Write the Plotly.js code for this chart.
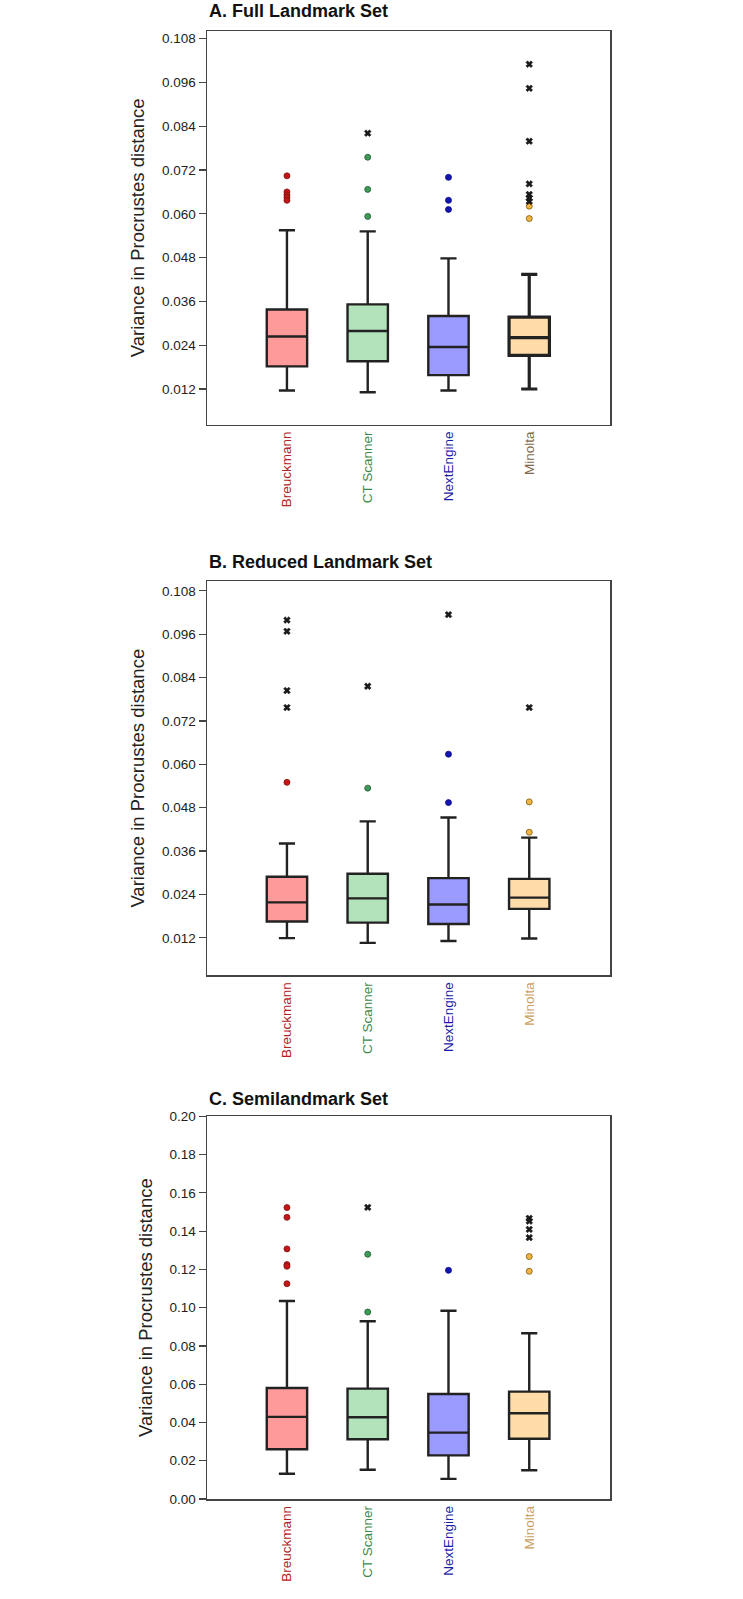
<!DOCTYPE html>
<html>
<head>
<meta charset="utf-8">
<script src="https://cdn.plot.ly/plotly-3.0.1.min.js"></script>
<style>html,body{margin:0;padding:0;background:#fff;}#chart{width:743px;height:1599px;}</style>
</head>
<body>
<div id="chart"></div>
<script>
// ---- Data ----
const scanners = ["Breuckmann", "CT Scanner", "NextEngine", "Minolta"];
const panelTitles = ["A. Full Landmark Set", "B. Reduced Landmark Set", "C. Semilandmark Set"];

// Panel A: Full Landmark Set
const A_q1 = [0.0182, 0.0196, 0.0158, 0.0212];
const A_median = [0.0264, 0.0279, 0.0235, 0.0261];
const A_q3 = [0.0338, 0.0352, 0.0320, 0.0317];
const A_low = [0.0116, 0.0111, 0.0116, 0.0120];
const A_high = [0.0555, 0.0552, 0.0478, 0.0434];
const A_outliers = [[0.0704, 0.0660, 0.0652, 0.0645, 0.0637], [0.0755, 0.0667, 0.0593], [0.0700, 0.0637, 0.0612], [0.0621, 0.0587]];
const A_extremes = [[], [0.0821], [], [0.1010, 0.0944, 0.0799, 0.0682, 0.0653, 0.0643, 0.0634]];

// Panel B: Reduced Landmark Set
const B_q1 = [0.0165, 0.0162, 0.0158, 0.0200];
const B_median = [0.0218, 0.0229, 0.0212, 0.0231];
const B_q3 = [0.0289, 0.0297, 0.0285, 0.0283];
const B_low = [0.0119, 0.0106, 0.0111, 0.0118];
const B_high = [0.0381, 0.0442, 0.0453, 0.0397];
const B_outliers = [[0.0550], [0.0534], [0.0628, 0.0494], [0.0496, 0.0412]];
const B_extremes = [[0.0999, 0.0968, 0.0804, 0.0757], [0.0816], [0.1014], [0.0757]];

// Panel C: Semilandmark Set
const C_q1 = [0.0260, 0.0312, 0.0228, 0.0315];
const C_median = [0.0429, 0.0427, 0.0347, 0.0448];
const C_q3 = [0.0580, 0.0577, 0.0549, 0.0561];
const C_low = [0.0132, 0.0153, 0.0105, 0.0150];
const C_high = [0.1035, 0.0929, 0.0984, 0.0866];
const C_outliers = [[0.1523, 0.1472, 0.1307, 0.1225, 0.1216, 0.1125], [0.1279, 0.0977], [0.1195], [0.1267, 0.1190]];
const C_extremes = [[], [0.1524], [], [0.1467, 0.1452, 0.1409, 0.1366]];

// ---- Styles ----
const fills = ["#ff9a9a", "#b3e3bb", "#9a9aff", "#ffdca8"];
const pointColors = ["#c01818", "#3f9a5a", "#1414b4", "#f2b440"];
const pointLines = ["#8a1010", "#1f5a30", "#0a0a80", "#7a5a10"];
const labelColorsA = ["#b22222", "#3a8a4a", "#1a1aa8", "#806848"];
const labelColorsBC = ["#b22222", "#3a8a4a", "#1a1aa8", "#caa060"];

const panels = [
  {q1: A_q1, med: A_median, q3: A_q3, lo: A_low, hi: A_high, out: A_outliers, ext: A_extremes},
  {q1: B_q1, med: B_median, q3: B_q3, lo: B_low, hi: B_high, out: B_outliers, ext: B_extremes},
  {q1: C_q1, med: C_median, q3: C_q3, lo: C_low, hi: C_high, out: C_outliers, ext: C_extremes}
];

const traces = [];
panels.forEach((p, pi) => {
  const xa = pi === 0 ? "x" : "x" + (pi + 1);
  const ya = pi === 0 ? "y" : "y" + (pi + 1);
  scanners.forEach((s, i) => {
    traces.push({
      type: "box", x: [i], q1: [p.q1[i]], median: [p.med[i]], q3: [p.q3[i]],
      lowerfence: [p.lo[i]], upperfence: [p.hi[i]],
      xaxis: xa, yaxis: ya, width: 0.5, whiskerwidth: 0.4,
      fillcolor: fills[i], line: {color: "#222", width: (pi === 0 && i === 3) ? 3.2 : 2.4},
      boxpoints: false, showlegend: false, hoverinfo: "skip"
    });
    if (p.out[i].length) {
      traces.push({
        type: "scatter", mode: "markers", x: p.out[i].map(() => i), y: p.out[i],
        xaxis: xa, yaxis: ya, showlegend: false, hoverinfo: "skip",
        marker: {symbol: "circle", size: 6, color: pointColors[i], line: {color: pointLines[i], width: 0.8}}
      });
    }
    if (p.ext[i].length) {
      traces.push({
        type: "scatter", mode: "markers", x: p.ext[i].map(() => i), y: p.ext[i],
        xaxis: xa, yaxis: ya, showlegend: false, hoverinfo: "skip",
        marker: {symbol: "x", size: 6, color: "#1a1a1a", line: {color: "#1a1a1a", width: 0.5}}
      });
    }
  });
});

function xaxisDef(anchor, colors) {
  return {
    anchor: anchor, domain: [0, 1], range: [-0.99, 4.0],
    tickmode: "array", tickvals: [0, 1, 2, 3],
    ticktext: scanners.map((s, i) => '<span style="color:' + colors[i] + '">' + s + '</span>'),
    tickangle: -90, ticks: "", showgrid: false, zeroline: false,
    showline: true, mirror: true, linecolor: "#444", linewidth: 1.5,
    tickfont: {family: "Liberation Sans, Arial, sans-serif", size: 13.5}
  };
}
function yaxisDef(anchor, domain, range, dtick, fmt, tick0) {
  return {
    anchor: anchor, domain: domain, range: range, tick0: tick0, dtick: dtick, tickformat: fmt,
    ticks: "outside", ticklen: 7, tickcolor: "#444", tickwidth: 1.2,
    showgrid: false, zeroline: false, showline: true, mirror: true, linecolor: "#444", linewidth: 1.5,
    tickfont: {family: "Liberation Sans, Arial, sans-serif", size: 13.5, color: "#222"},
    title: {text: "Variance in Procrustes distance", standoff: 12,
      font: {family: "Liberation Sans, Arial, sans-serif", size: 18.5, color: "#222"}}
  };
}

const titleYs = [1.0134, 0.6383, 0.2728];
const layout = {
  width: 743, height: 1599,
  margin: {l: 207, r: 133, t: 30.7, b: 100.3},
  paper_bgcolor: "#fff", plot_bgcolor: "#fff",
  showlegend: false,
  xaxis: xaxisDef("y", labelColorsA),
  xaxis2: xaxisDef("y2", labelColorsBC),
  xaxis3: xaxisDef("y3", labelColorsBC),
  yaxis: yaxisDef("x", [0.7319, 1.0], [0.00225, 0.1101], 0.012, ".3f", 0),
  yaxis2: yaxisDef("x2", [0.3567, 0.6253], [0.0016, 0.1107], 0.012, ".3f", 0),
  yaxis3: yaxisDef("x3", [0, 0.2607], [0, 0.2], 0.02, ".2f", 0),
  annotations: panelTitles.map((t, i) => ({
    text: "<b>" + t + "</b>", xref: "paper", yref: "paper", x: 0, y: titleYs[i],
    xanchor: "left", yanchor: "middle", showarrow: false,
    font: {family: "Liberation Sans, Arial, sans-serif", size: 18, color: "#111"}
  }))
};

Plotly.newPlot("chart", traces, layout, {staticPlot: true, displayModeBar: false});
</script>
</body>
</html>
